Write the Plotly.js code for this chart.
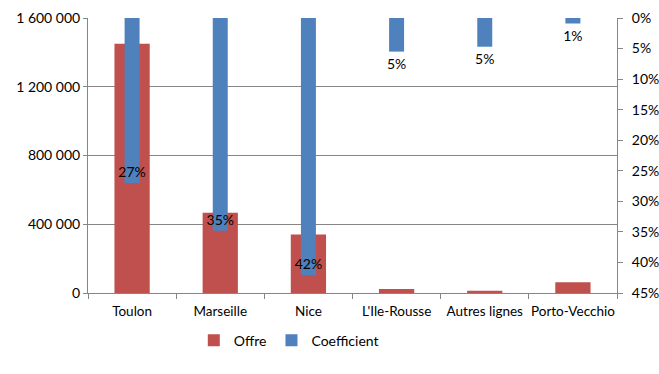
<!DOCTYPE html>
<html>
<head>
<meta charset="utf-8">
<script src="https://cdn.plot.ly/plotly-3.0.1.min.js"></script>
<style>html,body{margin:0;padding:0;background:#fff;}#chart{width:659px;height:374px;}</style>
</head>
<body>
<div id="chart"></div>
<script>
const categories = ["Toulon", "Marseille", "Nice", "L'Ile-Rousse", "Autres lignes", "Porto-Vecchio"];
const offre = [1450000, 467000, 341000, 24000, 13000, 62000];
const coefficient = [0.27, 0.348, 0.421, 0.055, 0.047, 0.009];
const coefLabels = ["27%", "35%", "42%", "5%", "5%", "1%"];
const coefLabelPos = ["inside", "inside", "inside", "outside", "outside", "outside"];
const leftTicks = [0, 400000, 800000, 1200000, 1600000];
const rightTicks = [0, 0.05, 0.10, 0.15, 0.20, 0.25, 0.30, 0.35, 0.40, 0.45];

const font = {family: "Lato, 'Liberation Sans', sans-serif", size: 14, color: "#000"};
const xfont = {family: font.family, size: 13.5, color: "#000"};

const traces = [
  {
    type: "bar", name: "Offre", x: categories, y: offre, yaxis: "y",
    width: 0.4, marker: {color: "#C0504D"}, hoverinfo: "skip"
  },
  {
    type: "bar", name: "Coefficient", x: categories, y: coefficient, yaxis: "y2",
    width: 0.17, marker: {color: "#4F81BD"},
    text: coefLabels, textposition: coefLabelPos, insidetextanchor: "end",
    textangle: 0, constraintext: "none",
    textfont: {family: font.family, size: 14, color: "#000"},
    insidetextfont: {family: font.family, size: 14, color: "#000"},
    outsidetextfont: {family: font.family, size: 14, color: "#000"},
    cliponaxis: false, hoverinfo: "skip"
  }
];

const layout = {
  width: 659, height: 374,
  margin: {l: 88, r: 42, t: 18, b: 81},
  paper_bgcolor: "#fff", plot_bgcolor: "#fff",
  font: font,
  separators: ", ",
  barmode: "overlay",
  showlegend: true,
  legend: {orientation: "h", x: 0.2, xanchor: "left", y: -0.115, yanchor: "top",
           font: font, itemwidth: 30, tracegroupgap: 0},
  xaxis: {
    type: "category", showgrid: false, showline: true, linecolor: "#868686", linewidth: 1,
    ticks: "outside", tickson: "boundaries", ticklen: 5, tickcolor: "#868686",
    ticklabelstandoff: 6, tickangle: 0, automargin: false,
    tickfont: xfont, zeroline: false, fixedrange: true
  },
  yaxis: {
    range: [0, 1600000], tickvals: leftTicks, tickformat: ",d",
    showgrid: true, gridcolor: "#868686", gridwidth: 1,
    showline: true, linecolor: "#868686", linewidth: 1,
    ticks: "outside", ticklen: 4, tickcolor: "#868686",
    zeroline: false, tickfont: font, fixedrange: true
  },
  yaxis2: {
    overlaying: "y", side: "right", range: [0.45, 0], tickvals: rightTicks, tickformat: ".0%",
    showgrid: false, showline: true, linecolor: "#868686", linewidth: 1,
    ticks: "outside", ticklen: 5, tickcolor: "#868686", ticklabelstandoff: 6,
    zeroline: false, tickfont: font, fixedrange: true
  }
};

Plotly.newPlot("chart", traces, layout, {displayModeBar: false, staticPlot: true});
</script>
</body>
</html>
